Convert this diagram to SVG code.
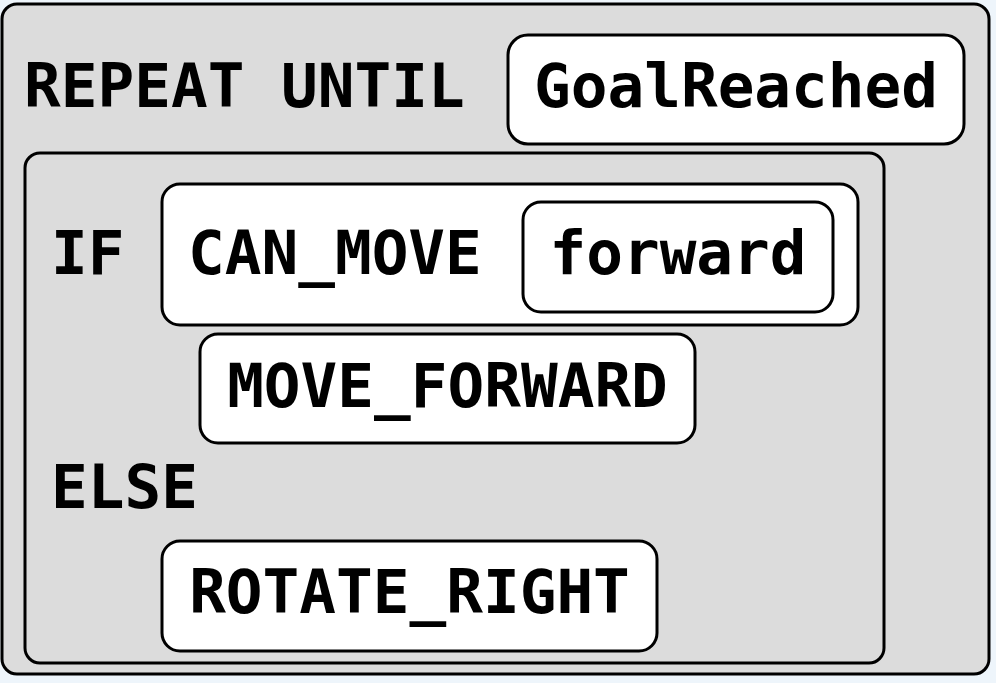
<svg xmlns="http://www.w3.org/2000/svg" width="996" height="683" viewBox="0 0 996 683">
<style>
.t{font-family:"DejaVu Sans Mono","Liberation Mono",monospace;font-weight:bold;font-size:61px;fill:#000}
.m{text-anchor:middle}
.blk{fill:#dcdcdc;stroke:#000;stroke-width:3}
.box{fill:#fff;stroke:#000;stroke-width:3}
</style>
<rect x="0" y="0" width="996" height="683" fill="#eef5fb"/>
<g id="repeat">
<rect class="blk" x="2" y="4" width="987" height="670" rx="15"/>
<text class="t" x="24" y="107">REPEAT UNTIL</text>
</g>
<g id="goal">
<rect class="box" x="508" y="35" width="456" height="109" rx="20"/>
<text class="t m" x="736" y="107">GoalReached</text>
</g>
<g id="ifelse">
<rect class="blk" x="25" y="153" width="859" height="510" rx="15"/>
<text class="t" x="51" y="274">IF</text>
<text class="t" x="51" y="508">ELSE</text>
</g>
<g id="cond">
<rect class="box" x="162" y="184" width="696" height="141" rx="18"/>
<text class="t" x="188" y="274">CAN_MOVE</text>
</g>
<g id="forward">
<rect class="box" x="523" y="202" width="310" height="110" rx="18"/>
<text class="t m" x="678" y="274">forward</text>
</g>
<g id="moveforward">
<rect class="box" x="200" y="334" width="495" height="109" rx="18"/>
<text class="t m" x="447.5" y="407">MOVE_FORWARD</text>
</g>
<g id="rotateright">
<rect class="box" x="162" y="541" width="495" height="110" rx="18"/>
<text class="t m" x="409.5" y="613">ROTATE_RIGHT</text>
</g>
<g id="connectors"></g>
</svg>
